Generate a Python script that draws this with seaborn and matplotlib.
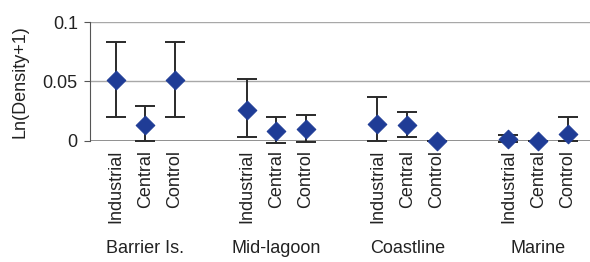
import numpy as np
import pandas as pd
import seaborn as sns
import matplotlib.pyplot as plt

# values
habitats = ['Barrier Is.', 'Mid-lagoon', 'Coastline', 'Marine']
sites = ['Industrial', 'Central', 'Control']
mean = [0.051, 0.0135, 0.051,
        0.026, 0.0085, 0.010,
        0.014, 0.013, 0.0,
        0.002, 0.0, 0.006]
lower = [0.020, 0.0, 0.020,
         0.0035, -0.002, -0.0005,
         0.0, 0.003, 0.0,
         -0.001, 0.0, 0.0]
upper = [0.083, 0.029, 0.083,
         0.052, 0.020, 0.022,
         0.037, 0.024, 0.0,
         0.005, 0.0, 0.020]

sns.set_style('white')
plt.rcParams['font.family'] = ['Liberation Sans', 'DejaVu Sans']

df = pd.DataFrame({
    'habitat': np.repeat(habitats, len(sites)),
    'site': sites * len(habitats),
    'mean': mean,
    'lower': lower,
    'upper': upper,
})
gi = np.repeat(np.arange(len(habitats)), len(sites))
si = np.tile(np.arange(len(sites)), len(habitats))
df['x'] = gi * 4.4 + si

fig = plt.figure(figsize=(5.9, 2.62), dpi=100)
ax = fig.add_axes([0.153, 0.462, 0.86, 0.454])

ax.errorbar(df['x'], df['mean'],
            yerr=[df['mean'] - df['lower'], df['upper'] - df['mean']],
            fmt='none', ecolor='#2a2a2a', elinewidth=1.4, capsize=7,
            capthick=1.4, clip_on=False, zorder=3)
sns.scatterplot(data=df, x='x', y='mean', marker='D', s=90, color='#1f3c96',
                edgecolor='#1f3c96', ax=ax, zorder=4, clip_on=False, legend=False)

ax.set_xlim(-0.85, df['x'].max() + 1.0)
ax.set_ylim(0, 0.1)
ax.set_yticks([0, 0.05, 0.1])
ax.set_yticklabels(['0', '0.05', '0.1'], fontsize=13, color='#222222')
ax.yaxis.grid(True, color='#a8a8a8', linewidth=1.0)
ax.set_axisbelow(True)
for s in ['top', 'right', 'bottom']:
    ax.spines[s].set_visible(False)
ax.spines['left'].set_color('#555555')
ax.tick_params(axis='y', left=True, length=4, color='#555555', pad=5)
ax.axhline(0, color='#808080', linewidth=1.2, zorder=1)

ax.set_xticks(df['x'])
ax.set_xticklabels(df['site'], rotation=90, fontsize=13, color='#222222')
ax.tick_params(axis='x', bottom=False, pad=3)

ax.set_ylabel('Ln(Density+1)', fontsize=13, color='#222222', labelpad=10)
ax.set_xlabel('')

for g, name in enumerate(habitats):
    ax.text(g * 4.4 + 1, -0.0905, name, ha='center', va='center',
            fontsize=13, color='#222222')

fig.savefig('out.png', dpi=100)
